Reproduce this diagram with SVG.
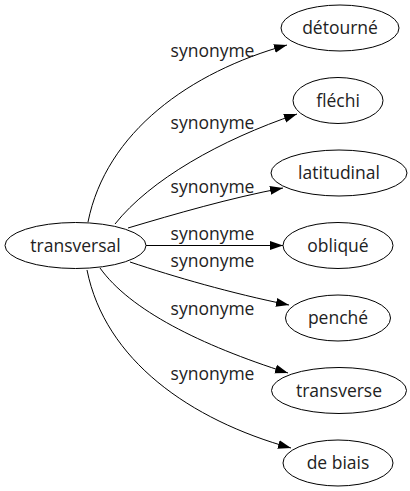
<svg xmlns="http://www.w3.org/2000/svg" width="410" height="491" viewBox="0 0 410 491">
<style>
  .node ellipse { fill: none; stroke: #000; stroke-width: 1; }
  text { font-family: "Open Sans", "DejaVu Sans", sans-serif; font-size: 17.5px; fill: #222; text-anchor: middle; }
  .edge path { fill: none; stroke: #000; stroke-width: 1; }
</style>
<defs>
  <marker id="arrow" markerUnits="userSpaceOnUse" markerWidth="14" markerHeight="10" refX="13" refY="5" orient="auto">
    <path d="M0,0.5 L13,5 L0,9.5 z" fill="#000"/>
  </marker>
</defs>
<rect width="410" height="491" fill="#fff"/>
<g id="connectors" class="edge">
  <path d="M88,222 C106,132 190,72 287,45" marker-end="url(#arrow)"/>
  <path d="M115,224 C150,180 220,140 297,114" marker-end="url(#arrow)"/>
  <path d="M128,228 C175,214 230,198 283,188" marker-end="url(#arrow)"/>
  <path d="M146,245.5 L283,245.5" marker-end="url(#arrow)"/>
  <path d="M130,262 C175,277 230,293 289,305" marker-end="url(#arrow)"/>
  <path d="M100,268 C130,310 200,345 288,373" marker-end="url(#arrow)"/>
  <path d="M87,270 C105,360 190,420 291,448" marker-end="url(#arrow)"/>
  <text x="212.5" y="57">synonyme</text>
  <text x="212.5" y="129">synonyme</text>
  <text x="212.5" y="193">synonyme</text>
  <text x="212.5" y="240">synonyme</text>
  <text x="212.5" y="267">synonyme</text>
  <text x="212.5" y="315">synonyme</text>
  <text x="212.5" y="380">synonyme</text>
</g>
<g id="transversal" class="node"><ellipse cx="75.5" cy="245.5" rx="70.5" ry="23"/><text x="75.5" y="251.5">transversal</text></g>
<g id="detourne" class="node"><ellipse cx="340" cy="28" rx="59" ry="23"/><text x="340" y="34">détourné</text></g>
<g id="flechi" class="node"><ellipse cx="338" cy="100.5" rx="45" ry="23"/><text x="338" y="106.5">fléchi</text></g>
<g id="latitudinal" class="node"><ellipse cx="339" cy="173" rx="68" ry="23"/><text x="339" y="179">latitudinal</text></g>
<g id="oblique" class="node"><ellipse cx="338" cy="245.5" rx="55" ry="23"/><text x="338" y="251.5">obliqué</text></g>
<g id="penche" class="node"><ellipse cx="338" cy="318" rx="52.5" ry="23"/><text x="338" y="324">penché</text></g>
<g id="transverse" class="node"><ellipse cx="339" cy="390.5" rx="67.5" ry="23"/><text x="339" y="396.5">transverse</text></g>
<g id="debiais" class="node"><ellipse cx="338" cy="463" rx="55" ry="23"/><text x="338" y="469">de biais</text></g>
</svg>
